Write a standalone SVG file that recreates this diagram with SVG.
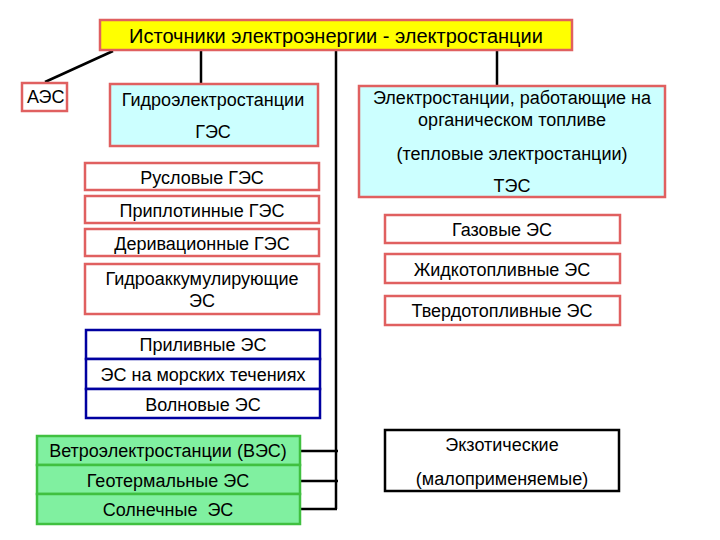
<svg xmlns="http://www.w3.org/2000/svg" width="720" height="540" viewBox="0 0 720 540">
<style>
text{font-family:"Liberation Sans",Arial,sans-serif;font-size:18px;fill:#000;text-anchor:middle}
.red{fill:#fff;stroke:#e06060;stroke-width:2.5}
.cyan{fill:#ccffff;stroke:#e06060;stroke-width:2.5}
.blue{fill:#fff;stroke:#0000a0;stroke-width:2.5}
.green{fill:#80f0a0;stroke:#40c040;stroke-width:2.5}
.black{fill:#fff;stroke:#000;stroke-width:2.5}
.ln{stroke:#000;stroke-width:2.5;fill:none}
</style>
<rect width="720" height="540" fill="#fff"/>
<g id="connectors">
<line class="ln" x1="113" y1="51" x2="45" y2="82" stroke-width="3.5"/>
<line class="ln" x1="201" y1="50" x2="201" y2="84"/>
<line class="ln" x1="497" y1="50" x2="497" y2="86"/>
<line class="ln" x1="336" y1="50" x2="336" y2="509"/>
<line class="ln" x1="300" y1="451" x2="338" y2="451"/>
<line class="ln" x1="300" y1="481" x2="338" y2="481"/>
<line class="ln" x1="300" y1="509" x2="337" y2="509"/>
</g>
<g id="title"><rect x="100" y="20" width="472" height="30" fill="#ffff00" stroke="#e06060" stroke-width="2.5"/><text x="336" y="43" style="font-size:20px">Источники электроэнергии - электростанции</text></g>
<g id="aes"><rect class="red" x="22" y="83" width="45" height="28"/><text x="27" y="103" style="text-anchor:start">АЭС</text></g>
<g id="ges"><rect class="cyan" x="110" y="84" width="208" height="62"/><text x="213" y="106">Гидроэлектростанции</text><text x="213" y="138">ГЭС</text></g>
<g id="tes"><rect class="cyan" x="359" y="86" width="306" height="111"/><text x="512" y="104">Электростанции, работающие на</text><text x="512" y="126">органическом топливе</text><text x="512" y="160">(тепловые электростанции)</text><text x="512" y="192">ТЭС</text></g>
<g id="ruslovye"><rect class="red" x="85" y="163" width="234" height="27"/><text x="202" y="184">Русловые ГЭС</text></g>
<g id="priplotinnye"><rect class="red" x="85" y="196" width="234" height="27"/><text x="202" y="217">Приплотинные ГЭС</text></g>
<g id="derivatsionnye"><rect class="red" x="85" y="229" width="234" height="27"/><text x="202" y="250">Деривационные ГЭС</text></g>
<g id="gaes"><rect class="red" x="85" y="264" width="234" height="50"/><text x="202" y="285">Гидроаккумулирующие</text><text x="202" y="307">ЭС</text></g>
<g id="prilivnye"><rect class="blue" x="86" y="330" width="234" height="29"/><text x="203" y="351">Приливные ЭС</text></g>
<g id="morskie"><rect class="blue" x="86" y="359" width="234" height="30"/><text x="203" y="381">ЭС на морских течениях</text></g>
<g id="volnovye"><rect class="blue" x="86" y="389" width="234" height="29"/><text x="203" y="411">Волновые ЭС</text></g>
<g id="ves"><rect class="green" x="37" y="436" width="263" height="29"/><text x="168" y="457">Ветроэлектростанции (ВЭС)</text></g>
<g id="geo"><rect class="green" x="37" y="465" width="263" height="29"/><text x="168" y="487">Геотермальные ЭС</text></g>
<g id="solar"><rect class="green" x="37" y="494" width="263" height="30"/><text x="168" y="516" xml:space="preserve">Солнечные  ЭС</text></g>
<g id="gas"><rect class="red" x="385" y="215" width="235" height="28"/><text x="502" y="236">Газовые ЭС</text></g>
<g id="liquid"><rect class="red" x="385" y="254" width="235" height="29"/><text x="502" y="276">Жидкотопливные ЭС</text></g>
<g id="solid"><rect class="red" x="385" y="296" width="235" height="29"/><text x="502" y="317">Твердотопливные ЭС</text></g>
<g id="exotic"><rect class="black" x="385" y="430" width="234" height="61"/><text x="502" y="451">Экзотические</text><text x="502" y="485">(малоприменяемые)</text></g>
</svg>
